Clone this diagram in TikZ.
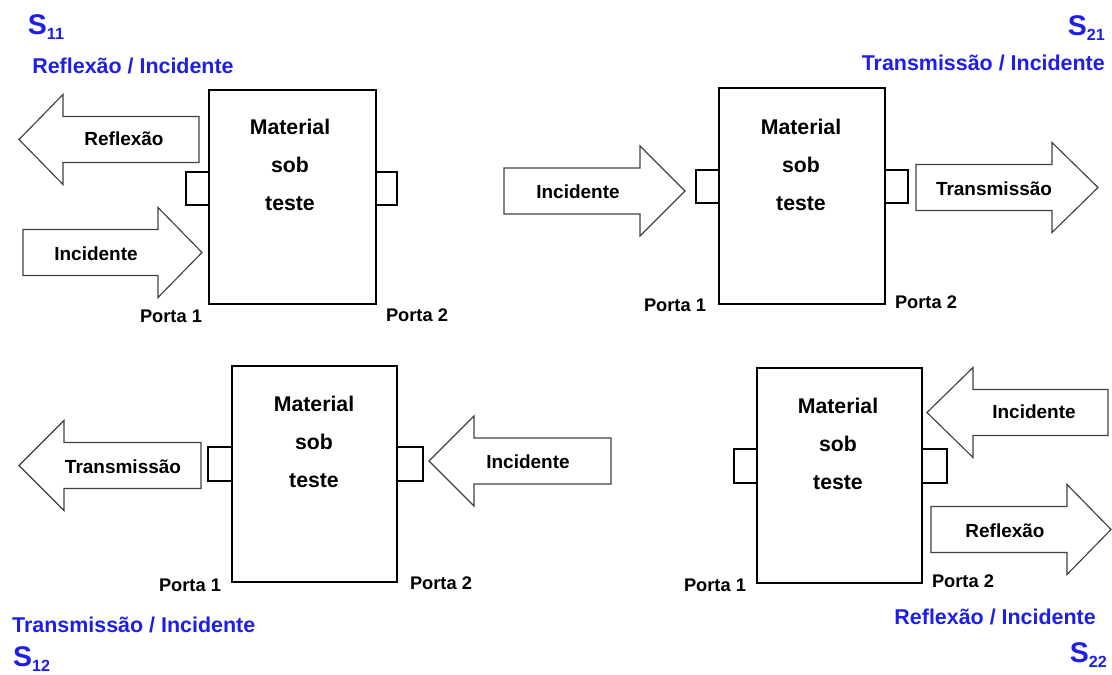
\documentclass[tikz,border=0pt]{standalone}
\usepackage{fontspec}
\setmainfont{Liberation Sans}
\usepackage{xcolor}
\usetikzlibrary{positioning}

\definecolor{sblue}{RGB}{30,30,235}

% block arrow: tail x, head base x, tip x, mid y
\newcommand{\blockarr}[4]{%
  \draw[bigarrow] (#1,#4-23) -- (#2,#4-23) -- (#2,#4-45) -- (#3,#4)
    -- (#2,#4+45) -- (#2,#4+23) -- (#1,#4+23) -- cycle;}

\tikzset{
  dut/.style={draw, line width=0.9pt},
  portbox/.style={draw, line width=0.8pt},
  bigarrow/.style={draw=black!75, line width=0.65pt},
  arrowtext/.style={font=\bfseries\fontsize{10.8}{12}\selectfont},
  mattext/.style={align=center, font=\bfseries\fontsize{12.1}{21.5}\selectfont},
  portatext/.style={font=\bfseries\fontsize{10.4}{12}\selectfont},
  ratiotext/.style={text=sblue, font=\bfseries\fontsize{12.2}{14}\selectfont},
  sname/.style={text=sblue, inner sep=1pt, font=\bfseries\fontsize{16.2}{18}\selectfont}
}
\newcommand{\sub}[1]{\raisebox{-0.35ex}{\fontsize{9.2}{10}\selectfont #1}}

\begin{document}
\begin{tikzpicture}[x=0.02cm, y=-0.02cm]
    \useasboundingbox (0,0) rectangle (1112,675);

    % S11
    \draw[dut] (209,90) rectangle (376,304);
    \draw[portbox] (186,172) rectangle (209,205);
    \draw[portbox] (376,172) rectangle (397,205);
    \blockarr{199}{63}{19}{139.5}
    \blockarr{23}{158}{202}{252.5}
    \node[arrowtext] (ref11) at (124,139) {Reflexão};
    \node[arrowtext] (inc11) at (96,254) {Incidente};
    \node[mattext] (mat11) at (290,165) {Material\\sob\\teste};
    \node[portatext] (pa11) at (171,316) {Porta 1};
    \node[portatext] (pb11) at (417,315) {Porta 2};
    \node[sname] (s11) at (46,27) {S\sub{11}};
    \node[ratiotext] (r11) at (133,66) {Reflexão / Incidente};

    % S21
    \draw[dut] (719,88) rectangle (885,304);
    \draw[portbox] (696,170) rectangle (719,203);
    \draw[portbox] (885,170) rectangle (908,203);
    \blockarr{504}{640}{685}{191}
    \blockarr{916}{1052}{1098}{187.5}
    \node[arrowtext] (inc21) at (578,192) {Incidente};
    \node[arrowtext] (tra21) at (994,189) {Transmissão};
    \node[mattext] (mat21) at (801,165) {Material\\sob\\teste};
    \node[portatext] (pa21) at (675,305) {Porta 1};
    \node[portatext] (pb21) at (926,302) {Porta 2};
    \node[sname, anchor=east] (s21) at (1107,28) {S\sub{21}};
    \node[ratiotext, anchor=east] (r21) at (1111,63) {Transmissão / Incidente};

    % S12
    \draw[dut] (232,366) rectangle (397,582);
    \draw[portbox] (208,447) rectangle (232,481);
    \draw[portbox] (397,447) rectangle (423,481);
    \blockarr{201}{64}{19}{465.5}
    \blockarr{611}{474}{429}{461}
    \node[arrowtext] (tra12) at (123,467) {Transmissão};
    \node[arrowtext] (inc12) at (528,462) {Incidente};
    \node[mattext] (mat12) at (314,442) {Material\\sob\\teste};
    \node[portatext] (pa12) at (190,585) {Porta 1};
    \node[portatext] (pb12) at (441,583) {Porta 2};
    \node[ratiotext, anchor=west] (r12) at (6,625) {Transmissão / Incidente};
    \node[sname, anchor=west] (s12) at (11,659) {S\sub{12}};

    % S22
    \draw[dut] (757,368) rectangle (922,583);
    \draw[portbox] (734,449) rectangle (757,483);
    \draw[portbox] (922,449) rectangle (947,483);
    \blockarr{1108}{973}{927}{412.5}
    \blockarr{931}{1067}{1111}{529.5}
    \node[arrowtext] (inc22) at (1034,412) {Incidente};
    \node[arrowtext] (ref22) at (1005,531) {Reflexão};
    \node[mattext] (mat22) at (838,444) {Material\\sob\\teste};
    \node[portatext] (pa22) at (715,585) {Porta 1};
    \node[portatext] (pb22) at (963,581) {Porta 2};
    \node[ratiotext, anchor=east] (r22) at (1102,617) {Reflexão / Incidente};
    \node[sname, anchor=east] (s22) at (1109,655) {S\sub{22}};
\end{tikzpicture}
\end{document}
